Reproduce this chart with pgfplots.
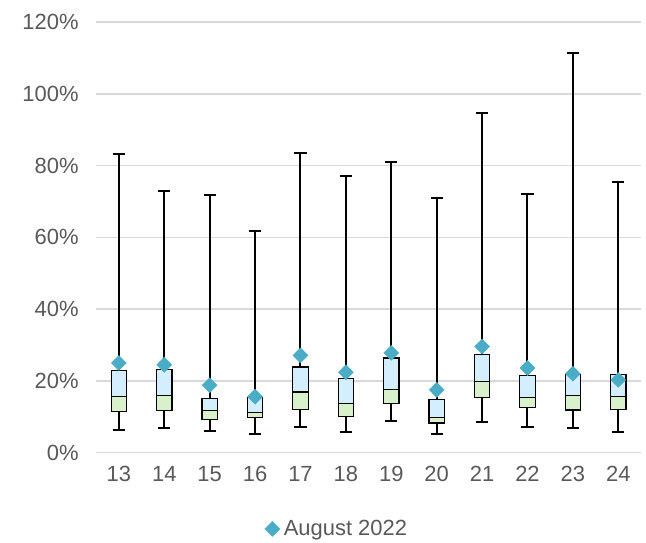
\documentclass[border=0pt]{standalone}
\usepackage{pgfplots}
\usepgfplotslibrary{statistics}
\pgfplotsset{compat=1.18}
\usepackage{fontspec}
\setmainfont{Liberation Sans}

\definecolor{boxgreen}{RGB}{217,241,202}
\definecolor{boxblue}{RGB}{211,238,254}
\definecolor{augcol}{RGB}{75,172,198}
\definecolor{labelgray}{RGB}{89,89,89}
\definecolor{gridgray}{RGB}{217,217,217}

% #1 position, #2 min, #3 Q1, #4 median, #5 Q3, #6 max (in %)
% green box Q1..median, blue box median..Q3
\newcommand{\twobox}[6]{%
  \addplot[forget plot, fill=boxgreen,
    boxplot/draw/upper whisker/.code={},
    boxplot prepared={draw position=#1,
      lower whisker=#2, lower quartile=#3, median=#4,
      upper quartile=#4, upper whisker=#4}] coordinates {};
  \addplot[forget plot, fill=boxblue,
    boxplot/draw/lower whisker/.code={},
    boxplot prepared={draw position=#1,
      lower whisker=#4, lower quartile=#4, median=#4,
      upper quartile=#5, upper whisker=#6}] coordinates {};
}

\begin{document}
\begin{tikzpicture}
\path[use as bounding box] (-96bp,-90bp) rectangle (549bp,452bp);
\begin{axis}[
    scale only axis,
    width=544bp,
    height=430bp,
    xmin=12.5, xmax=24.5,
    ymin=0, ymax=120,
    xtick={13,...,24},
    ytick={0,20,...,120},
    yticklabel={\pgfmathprintnumber{\tick}\%},
    /pgf/number format/assume math mode=true,
    major tick length=0pt,
    axis line style={draw=none},
    ymajorgrids=true,
    grid style={gridgray, line width=1.5bp},
    tick label style={font=\fontsize{22}{26}\selectfont, text=labelgray},
    yticklabel style={xshift=-14bp},
    xticklabel style={yshift=-10bp},
    boxplot/draw direction=y,
    boxplot/box extend=0.34,
    boxplot/whisker extend=0.27,
    boxplot/every box/.style={draw=black, line width=1.2bp},
    boxplot/every whisker/.style={draw=black, line width=2bp},
    boxplot/every median/.style={draw=black, line width=1.2bp},
    legend style={at={(0.442,-0.177)}, anchor=center, draw=none,
        font=\fontsize{22}{26}\selectfont, text=labelgray,
        inner sep=0pt, column sep=2bp},
    legend cell align=left,
]
\twobox{13}{6.4}{11.5}{15.6}{22.9}{83.1}
\twobox{14}{7.0}{11.8}{16.0}{23.1}{72.8}
\twobox{15}{6.1}{9.2}{11.8}{15.2}{71.9}
\twobox{16}{5.2}{9.7}{11.1}{15.3}{61.9}
\twobox{17}{7.3}{12.1}{16.9}{23.9}{83.6}
\twobox{18}{5.9}{10.0}{13.6}{20.6}{77.2}
\twobox{19}{8.8}{13.6}{17.5}{26.4}{81.0}
\twobox{20}{5.2}{8.3}{9.8}{14.9}{70.9}
\twobox{21}{8.6}{15.4}{19.9}{27.3}{94.6}
\twobox{22}{7.1}{12.7}{15.3}{21.6}{72.1}
\twobox{23}{7.0}{11.9}{16.0}{21.7}{111.3}
\twobox{24}{5.9}{12.0}{15.6}{21.7}{75.5}
\addplot[only marks, mark=diamond*, mark size=7.5bp, color=augcol,
    mark options={xscale=1.33, fill=augcol, draw=augcol}]
    coordinates {
    (13,25.0)(14,24.5)(15,18.8)(16,15.6)(17,27.1)(18,22.4)
    (19,27.8)(20,17.5)(21,29.6)(22,23.6)(23,22.0)(24,20.3)
    };
\legend{August 2022}
\end{axis}
\end{tikzpicture}
\end{document}
